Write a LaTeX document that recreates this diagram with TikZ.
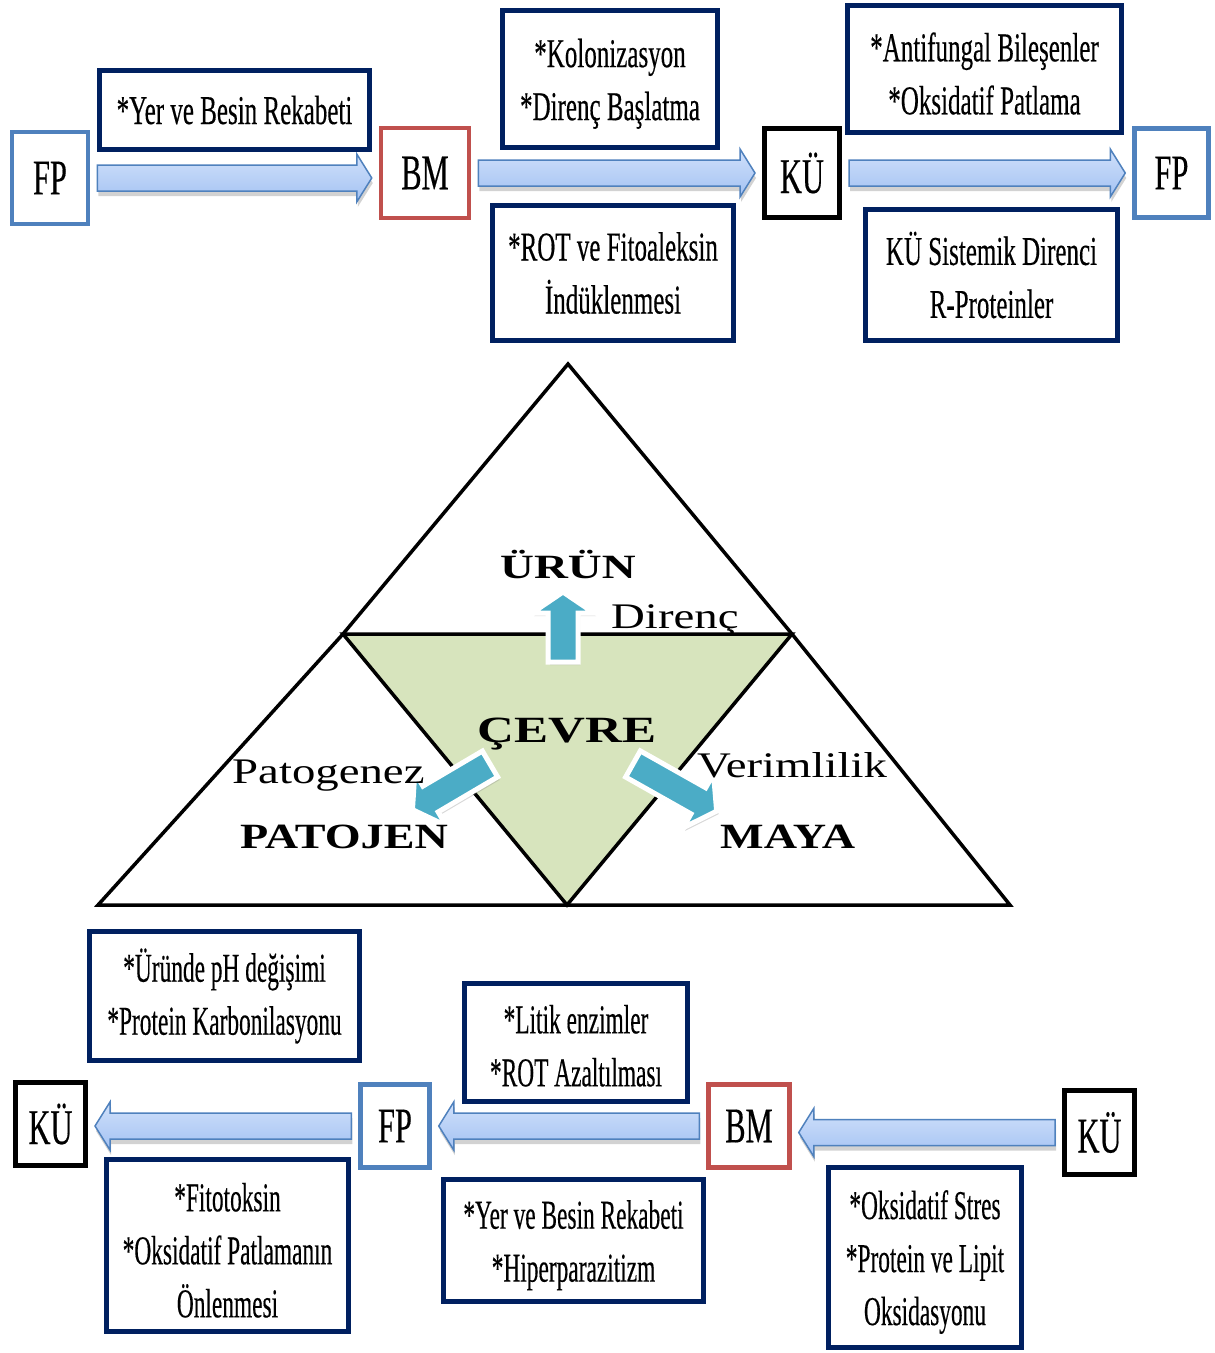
\documentclass[tikz,border=0pt]{standalone}
\usepackage{fontspec}
\setmainfont{Liberation Serif}
\newfontfamily\condf[FakeStretch=0.61,FakeBold=0.3]{Liberation Serif}
\newfontfamily\condg[FakeStretch=0.57,FakeBold=0.3]{Liberation Serif}
\newfontfamily\widef[FakeStretch=1.3]{Liberation Serif}
\newfontfamily\wideb[FakeStretch=1.38]{Liberation Serif}
\newfontfamily\midb[FakeStretch=1.3]{Liberation Serif}
\usetikzlibrary{calc,shadows,backgrounds}
\definecolor{navy}{RGB}{0,32,96}
\definecolor{fpblue}{RGB}{79,129,189}
\definecolor{bmred}{RGB}{192,80,77}
\definecolor{arrtop}{RGB}{208,224,250}
\definecolor{arrbot}{RGB}{163,194,243}
\definecolor{tealc}{RGB}{75,172,198}
\definecolor{cevre}{RGB}{215,228,189}
\tikzset{
  txtbox/.style={draw=navy, line width=5pt, fill=white, align=center, inner sep=0pt,
    font=\condf\fontsize{41}{53}\selectfont},
  txtboxb/.style={txtbox, font=\condg\fontsize{41}{53}\selectfont},
  fpbox/.style={draw=fpblue, line width=4.5pt, fill=white, inner sep=0pt,
    font=\condf\fontsize{50}{60}\selectfont},
  bmbox/.style={fpbox, draw=bmred},
  kubox/.style={fpbox, draw=black, line width=5pt},
  barrowst/.style={draw=fpblue, line width=1.5pt, top color=arrtop, bottom color=arrbot,
    drop shadow={opacity=0.35, shadow xshift=1pt, shadow yshift=-5pt}},
  tarrowst/.style={fill=tealc, draw=white, line width=5pt, line join=miter,
    drop shadow={opacity=0.3, shadow xshift=2pt, shadow yshift=-3pt}},
  triline/.style={line width=3.5pt, line join=miter},
  trilabel/.style={inner sep=0pt, font=\widef\fontsize{36}{42}\selectfont},
  tribold/.style={inner sep=0pt, font=\midb\bfseries\fontsize{35.5}{42}\selectfont},
}
\newcommand\fs{\rule{0pt}{38pt}}
\newcommand\rarrow[2]{%
  \draw[barrowst] let \p1=(#1.east), \p2=(#2.west) in
    (\x1+7pt,\y1+13pt) -- (\x2-22pt,\y1+13pt) -- (\x2-22pt,\y1+24pt) -- (\x2-7pt,\y1)
    -- (\x2-22pt,\y1-24pt) -- (\x2-22pt,\y1-13pt) -- (\x1+7pt,\y1-13pt) -- cycle;}
\newcommand\larrow[2]{%
  \draw[barrowst] let \p1=(#1.west), \p2=(#2.east) in
    (\x1-7pt,\y1+13pt) -- (\x2+22pt,\y1+13pt) -- (\x2+22pt,\y1+24pt) -- (\x2+7pt,\y1)
    -- (\x2+22pt,\y1-24pt) -- (\x2+22pt,\y1-13pt) -- (\x1-7pt,\y1-13pt) -- cycle;}
\newcommand\tarrow[3]{%
  \draw[tarrowst, shift={#1}, rotate=#2] (0,-15) -- (#3-21,-15) -- (#3-21,-31) -- (#3,0)
    -- (#3-21,31) -- (#3-21,15) -- (0,15) -- cycle;}
\begin{document}
\begin{tikzpicture}[x=1pt,y=-1pt]
\useasboundingbox (0,0) rectangle (1215,1353);
\begin{pgfonlayer}{background}
  \fill[white] (0,0) rectangle (1215,1353);
\end{pgfonlayer}

% ---------- top row ----------
\node[fpbox, minimum width=76pt, minimum height=92pt] (fp1) at (50,178) {FP};
\node[bmbox, minimum width=88pt, minimum height=90pt] (bm1) at (425,173) {BM};
\node[kubox, minimum width=75pt, minimum height=89pt] (ku1) at (802,173) {KÜ};
\node[fpbox, minimum width=74pt, minimum height=89pt] (fp2) at (1171.5,173) {FP};

\node[txtbox, minimum width=270pt, minimum height=79pt] (t1) at (234.5,110) {*Yer ve Besin Rekabeti};
\node[txtbox, minimum width=215pt, minimum height=137pt] (t2) at (610,79) {\fs*Kolonizasyon\\*Direnç Başlatma};
\node[txtbox, minimum width=241pt, minimum height=135pt] (t3) at (613,273) {*ROT ve Fitoaleksin\\İndüklenmesi};
\node[txtbox, minimum width=274pt, minimum height=127pt] (t4) at (984.5,69) {\fs*Antifungal Bileşenler\\*Oksidatif Patlama};
\node[txtbox, minimum width=252pt, minimum height=131pt] (t5) at (991.5,275) {KÜ Sistemik Direnci\\R-Proteinler};

% ---------- bottom row ----------
\node[kubox, minimum width=70pt, minimum height=83pt] (ku3) at (50.5,1124) {KÜ};
\node[fpbox, minimum width=69pt, minimum height=83pt] (fp3) at (395,1126) {FP};
\node[bmbox, minimum width=81pt, minimum height=83pt] (bm2) at (749,1126) {BM};
\node[kubox, minimum width=70pt, minimum height=84pt] (ku4) at (1099.5,1132.5) {KÜ};

\node[txtboxb, minimum width=270pt, minimum height=129pt] (b1) at (224.5,996) {*Üründe pH değişimi\\*Protein Karbonilasyonu};
\node[txtboxb, minimum width=223pt, minimum height=118pt] (b2) at (576,1042.5) {\rule{0pt}{35pt}*Litik enzimler\\*ROT Azaltılması};
\node[txtboxb, minimum width=242pt, minimum height=172pt] (b3) at (227.5,1245.5) {\fs*Fitotoksin\\*Oksidatif Patlamanın\\Önlenmesi};
\node[txtboxb, minimum width=260pt, minimum height=122pt] (b4) at (573.5,1240.5) {\fs*Yer ve Besin Rekabeti\\*Hiperparazitizm};
\node[txtboxb, minimum width=193pt, minimum height=180pt] (b5) at (925,1257.5) {\fs*Oksidatif Stres\\*Protein ve Lipit\\Oksidasyonu};

% ---------- block arrows (behind boxes) ----------
\begin{pgfonlayer}{background}
  \rarrow{fp1}{bm1}
  \rarrow{bm1}{ku1}
  \rarrow{ku1}{fp2}
  \larrow{ku4}{bm2}
  \larrow{bm2}{fp3}
  \larrow{fp3}{ku3}
\end{pgfonlayer}

% ---------- triangle ----------
\coordinate (apex) at (568,364);
\coordinate (bl) at (98,905);
\coordinate (br) at (1010,905);
\coordinate (ml) at (343,634);
\coordinate (mr) at (792,634);
\coordinate (bmid) at (567,905);
\fill[cevre] (ml) -- (mr) -- (bmid) -- cycle;
\draw[triline] (apex) -- (ml) -- (bl) -- (br) -- (mr) -- cycle;
\draw[triline] (ml) -- (mr) -- (bmid) -- cycle;

\tarrow{(563,662)}{90}{70}
\tarrow{(490,764)}{210.5}{90}
\tarrow{(633,764)}{-29.4}{96}

\node[anchor=base, inner sep=0pt, font=\wideb\bfseries\fontsize{34}{40}\selectfont] (urun) at (568,578) {ÜRÜN};
\node[anchor=base, inner sep=0pt, font=\wideb\bfseries\fontsize{37}{44}\selectfont] (cevrel) at (567,742) {ÇEVRE};
\node[trilabel, anchor=base west] (direnc) at (611,628) {Direnç};
\node[trilabel, anchor=base west] (patog) at (232,783) {Patogenez};
\node[trilabel, anchor=base west] (verim) at (697,777) {Verimlilik};
\node[tribold, anchor=base west] (patojen) at (240,848) {PATOJEN};
\node[tribold, anchor=base west] (maya) at (720,848) {MAYA};
\end{tikzpicture}
\end{document}
